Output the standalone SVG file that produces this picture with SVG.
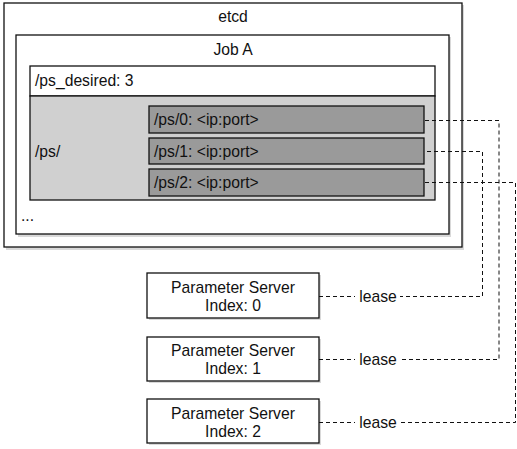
<svg xmlns="http://www.w3.org/2000/svg" width="517" height="449" viewBox="0 0 517 449">
<style>
text{font-family:"Liberation Sans",Arial,sans-serif;font-size:15.7px;fill:#111}
.box{stroke:#111;stroke-width:1.3}
.w{fill:#fff}
.sh{fill:#000;opacity:0.15}
.dash{fill:none;stroke:#111;stroke-width:1;stroke-dasharray:4 3}
.mid{text-anchor:middle}
</style>
<rect width="517" height="449" fill="#fff"/>
<g id="etcd">
<rect class="sh" x="6" y="5" width="458" height="245"/>
<rect class="box w" x="4" y="3" width="458" height="244"/>
<text class="mid" x="233" y="22">etcd</text>
</g>
<g id="jobA">
<rect class="sh" x="18" y="37" width="433" height="200"/>
<rect class="box w" x="16" y="35" width="433" height="199"/>
<text class="mid" x="233" y="55">Job A</text>
<text x="21" y="221">...</text>
</g>
<g id="ps_desired">
<rect class="box w" x="30" y="66" width="405" height="30"/>
<text x="35" y="86">/ps_desired: 3</text>
</g>
<g id="ps">
<rect class="box" fill="#d0d0d0" x="30" y="96" width="405" height="104"/>
<text x="35" y="157">/ps/</text>
</g>
<g id="ps0">
<rect class="box" fill="#9a9a9a" x="149" y="106" width="275" height="27"/>
<text x="154" y="125">/ps/0: &lt;ip:port&gt;</text>
</g>
<g id="ps1">
<rect class="box" fill="#9a9a9a" x="149" y="138" width="275" height="26"/>
<text x="154" y="157">/ps/1: &lt;ip:port&gt;</text>
</g>
<g id="ps2">
<rect class="box" fill="#9a9a9a" x="149" y="169" width="275" height="27"/>
<text x="154" y="188">/ps/2: &lt;ip:port&gt;</text>
</g>
<g id="server0">
<rect class="sh" x="149" y="275" width="172" height="45"/>
<rect class="box w" x="147" y="273" width="172" height="45"/>
<text class="mid" x="233" y="293">Parameter Server</text>
<text class="mid" x="233" y="311">Index: 0</text>
</g>
<g id="server1">
<rect class="sh" x="149" y="339" width="172" height="44"/>
<rect class="box w" x="147" y="337" width="172" height="44"/>
<text class="mid" x="233" y="356">Parameter Server</text>
<text class="mid" x="233" y="374">Index: 1</text>
</g>
<g id="server2">
<rect class="sh" x="149" y="401" width="172" height="44"/>
<rect class="box w" x="147" y="399" width="172" height="44"/>
<text class="mid" x="233" y="419">Parameter Server</text>
<text class="mid" x="233" y="437">Index: 2</text>
</g>
<g id="connectors">
<path class="dash" d="M425 120.5H499V359.5H400"/>
<path class="dash" d="M427 151.5H482.5V296.5H400"/>
<path class="dash" d="M425 182.5H515.5V422.5H400"/>
<path class="dash" d="M319 296.5H355"/>
<path class="dash" d="M319 359.5H355"/>
<path class="dash" d="M319 422.5H355"/>
<text class="mid" x="378" y="302">lease</text>
<text class="mid" x="378" y="365">lease</text>
<text class="mid" x="378" y="428">lease</text>
</g>
</svg>
